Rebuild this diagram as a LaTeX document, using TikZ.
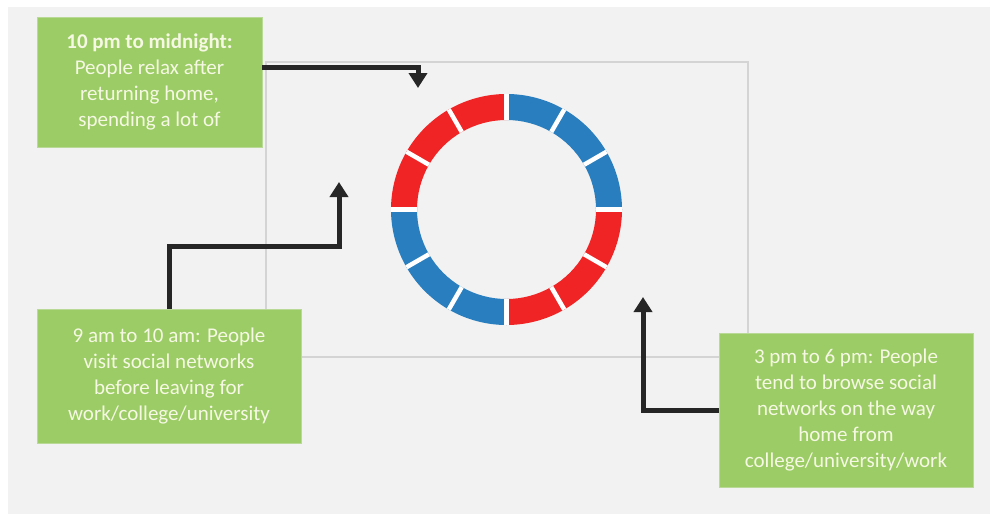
\documentclass[tikz,border=0pt]{standalone}
\usepackage{fontspec}
\setmainfont{Carlito}
\usetikzlibrary{arrows.meta,calc}
\definecolor{bgc}{RGB}{242,242,242}
\definecolor{boxc}{RGB}{155,204,101}
\definecolor{boxe}{RGB}{185,218,150}
\definecolor{txtc}{RGB}{246,248,228}
\definecolor{ringred}{RGB}{240,36,36}
\definecolor{ringblue}{RGB}{40,126,190}
\definecolor{arrc}{RGB}{38,38,38}
\definecolor{framec}{RGB}{212,212,212}
\begin{document}
\begin{tikzpicture}[x=1pt,y=-1pt,
  infobox/.style={draw=boxe, line width=0.8pt, fill=boxc, text=txtc, align=center, inner sep=0pt, font=\fontsize{21}{26}\selectfont},
  conn/.style={draw=arrc, line width=5pt, -{Triangle[width=18pt,length=15pt]}}]
\useasboundingbox (0,0) rectangle (990,514);
\fill[white] (0,0) rectangle (990,514);
\fill[bgc] (8,7) rectangle (990,514);
\draw[framec, line width=1.3pt] (266,62) rectangle (748,357);
% ring
\begin{scope}[shift={(506.5,209.5)}, y=1pt]
\foreach \a/\c in {90/ringblue,60/ringblue,30/ringblue,0/ringred,-30/ringred,-60/ringred,-90/ringblue,-120/ringblue,-150/ringblue,-180/ringred,-210/ringred,-240/ringred}{
  \fill[\c] (\a:115.5) arc[start angle=\a, end angle=\a-30, radius=115.5] -- ({\a-30}:89.5) arc[start angle=\a-30, end angle=\a, radius=89.5] -- cycle;
}
\foreach \a in {0,30,...,330}{
  \draw[white, line width=4.5pt] (\a:89.5) -- (\a:115.5);
}
\end{scope}
% boxes
\node[infobox, minimum width=225pt, minimum height=130pt] (b1) at (149.5,82) {\textbf{10 pm to midnight:}\\People relax after\\returning home,\\spending a lot of};
\node[infobox, minimum width=264pt, minimum height=134pt] (b2) at (169,376) {9 am to 10 am: People\\visit social networks\\before leaving for\\work/college/university};
\node[infobox, minimum width=254pt, minimum height=154pt] (b3) at (846,410) {3 pm to 6 pm: People\\tend to browse social\\networks on the way\\home from\\college/university/work};
% connectors
\coordinate (t1) at (418,88);
\coordinate (t2) at (339,182);
\coordinate (t3) at (643,297);
\draw[conn] ($(b1.east)+(0,-15)$) -| (t1);
\draw[conn] (b2.north) -- ($(b2.north)+(0,-62)$) -| (t2);
\draw[conn] (b3.west) -| (t3);
\end{tikzpicture}
\end{document}
